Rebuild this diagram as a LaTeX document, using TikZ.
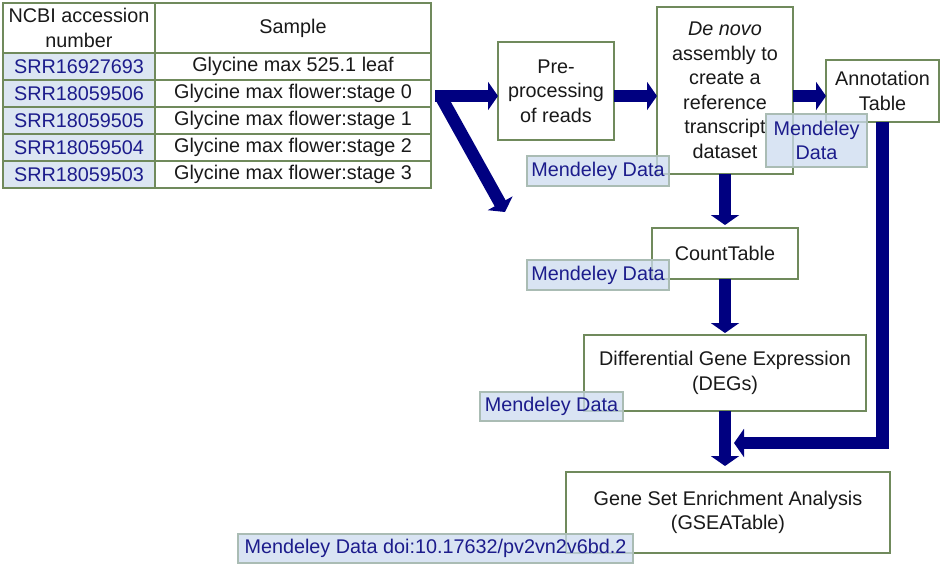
\documentclass[tikz,border=0pt]{standalone}
\usepackage{fontspec}
\setmainfont{Liberation Sans}
\usetikzlibrary{arrows.meta}
\definecolor{navy}{RGB}{0,0,128}
\definecolor{boxline}{RGB}{112,138,92}
\definecolor{mfill}{RGB}{205,220,240}
\definecolor{mline}{RGB}{170,188,180}
\definecolor{mtext}{RGB}{28,28,140}
\definecolor{cellfill}{RGB}{220,230,242}
\begin{document}
\begin{tikzpicture}[x=1pt,y=-1pt,
  every node/.style={font=\fontsize{19.8}{24.5}\selectfont, inner sep=0pt, outer sep=0pt},
  box/.style={draw=boxline, line width=1.3pt, fill=white, align=center, text=black!90},
  mbox/.style={draw=mline, line width=1.2pt, fill=mfill, fill opacity=0.75, text opacity=1, text=mtext, align=center},
  cell/.style={draw=boxline, line width=1.3pt, align=center, minimum height=27pt},
  cellL/.style={cell, fill=cellfill, text=mtext, minimum width=152pt},
  cellR/.style={cell, fill=white, text=black!90, minimum width=276pt},
  flow/.style={draw=navy, line width=12.5pt, -{Triangle[length=10pt,width=28pt]}, line join=miter}
]
\useasboundingbox (0,0) rectangle (941,563);
\fill[white] (0,0) rectangle (941,563);

% table
\node[cellR, minimum width=152pt, minimum height=50pt] (h1) at (79,28) {NCBI accession\\number};
\node[cellR, minimum height=50pt] (h2) at (293,28) {Sample};
\node[cellL] (r1a) at (79,66.5) {SRR16927693};
\node[cellR] (r1b) at (293,66.5) {Glycine max 525.1 leaf};
\node[cellL] (r2a) at (79,93.5) {SRR18059506};
\node[cellR] (r2b) at (293,93.5) {Glycine max flower:stage 0};
\node[cellL] (r3a) at (79,120.5) {SRR18059505};
\node[cellR] (r3b) at (293,120.5) {Glycine max flower:stage 1};
\node[cellL] (r4a) at (79,147.5) {SRR18059504};
\node[cellR] (r4b) at (293,147.5) {Glycine max flower:stage 2};
\node[cellL] (r5a) at (79,174.5) {SRR18059503};
\node[cellR] (r5b) at (293,174.5) {Glycine max flower:stage 3};

% process boxes
\node[box, minimum width=116pt, minimum height=98pt] (pre) at (556,91) {Pre-\\processing\\of reads};
\node[box, minimum width=136pt, minimum height=167pt] (denovo) at (725,90.5) {\textit{De novo}\\assembly to\\create a\\reference\\transcript\\dataset};
\node[box, minimum width=113pt, minimum height=62pt] (annot) at (882.5,91) {Annotation\\Table};
\node[box, minimum width=146pt, minimum height=51pt] (count) at (725,253.5) {CountTable};
\node[box, minimum width=282pt, minimum height=76pt] (deg) at (725,373) {Differential Gene Expression\\(DEGs)};
\node[box, minimum width=324pt, minimum height=81pt] (gsea) at (728,512.5) {Gene Set Enrichment Analysis\\(GSEATable)};

% data labels
\node[mbox, minimum width=142pt, minimum height=30pt] (m1) at (598,171) {Mendeley Data};
\node[mbox, minimum width=101pt, minimum height=53pt] (m2) at (816.5,140.5) {Mendeley\\Data};
\node[mbox, minimum width=142pt, minimum height=30pt] (m3) at (598,275) {Mendeley Data};
\node[mbox, minimum width=143pt, minimum height=29pt] (m4) at (551.5,406.5) {Mendeley Data};
\node[mbox, minimum width=395pt, minimum height=29pt] (m5) at (435.5,548.5) {Mendeley Data doi:10.17632/pv2vn2v6bd.2};

% connectors
\coordinate (split) at (435,96);
\coordinate (diagS) at (441,97);
\coordinate (diagE) at (505,212);
\coordinate (g6) at (725,466);
\coordinate (ret) at (734,443);
\draw[flow] (split) -- (split -| pre.west);
\draw[flow] (diagS) -- (diagE);
\draw[flow] (pre.east |- split) -- (denovo.west |- split);
\draw[flow] (denovo.east |- split) -- (annot.west |- split);
\draw[flow] (denovo.south) -- ([yshift=3pt]count.north);
\draw[flow] (count.south) -- ([yshift=2pt]deg.north);
\draw[flow] (deg.south) -- (g6);
\draw[flow] (annot.south) |- (ret);
\end{tikzpicture}
\end{document}
